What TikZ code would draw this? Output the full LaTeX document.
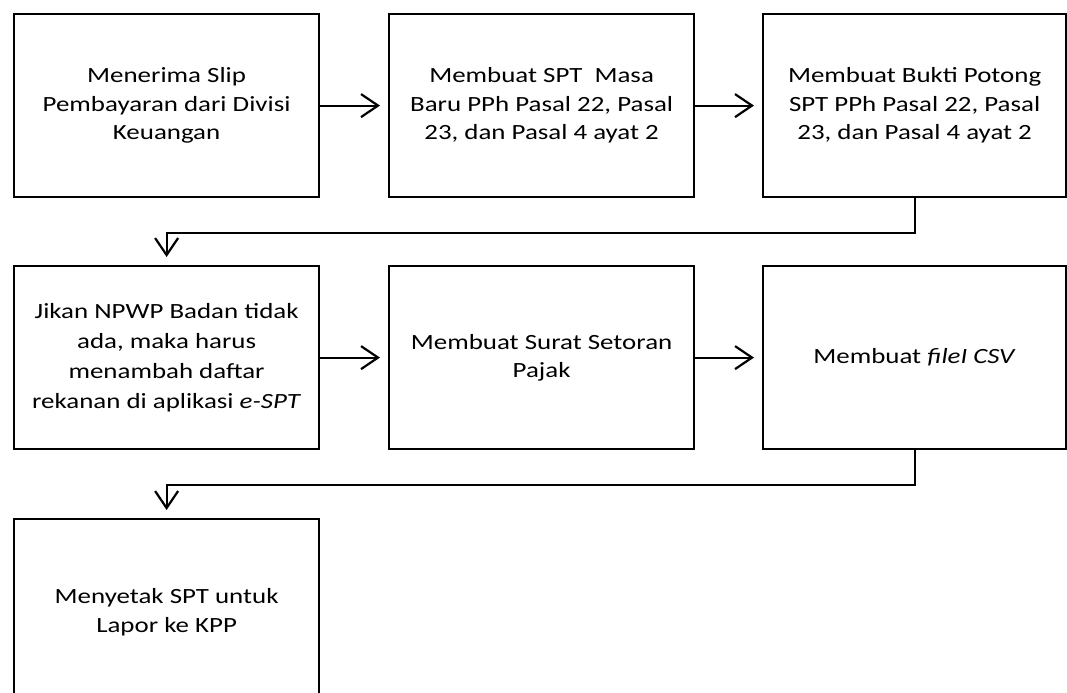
\documentclass[tikz,border=0pt]{standalone}
\usepackage{fontspec}
\setmainfont{Carlito}[FakeStretch=1.24]
\usetikzlibrary{arrows.meta,positioning}
\tikzset{
  stepbox/.style={draw=black, line width=2.2bp, anchor=north west, minimum width=305bp, minimum height=183bp, align=center, inner sep=0pt, font=\fontsize{21.7bp}{28.5bp}\selectfont},
  arr/.style={line width=2.2bp, -{Straight Barb[length=17bp,width=23bp,line width=2.2bp]}, shorten >=8bp}
}
\begin{document}
\begin{tikzpicture}[x=1bp,y=-1bp]
\useasboundingbox (0,0) rectangle (1067,693);
\clip (0,0) rectangle (1067,693);
\fill[white] (0,0) rectangle (1067,693);
\node[stepbox] (b1) at (13,13) {Menerima Slip\\Pembayaran dari Divisi\\Keuangan};
\node[stepbox] (b2) at (388,13) {Membuat SPT\ \ Masa\\Baru PPh Pasal 22, Pasal\\23, dan Pasal 4 ayat 2};
\node[stepbox, minimum width=303bp] (b3) at (762,13) {Membuat Bukti Potong\\SPT PPh Pasal 22, Pasal\\23, dan Pasal 4 ayat 2};
\node[stepbox, font=\fontsize{21.7bp}{30bp}\selectfont] (b4) at (13,265) {Jikan NPWP Badan tidak\\ada, maka harus\\menambah daftar\\rekanan di aplikasi \textit{e-SPT}};
\node[stepbox] (b5) at (388,265) {Membuat Surat Setoran\\Pajak};
\node[stepbox, minimum width=303bp] (b6) at (762,265) {Membuat \textit{fileI CSV}};
\node[stepbox, minimum height=186bp] (b7) at (13,518) {Menyetak SPT untuk\\Lapor ke KPP};
\draw[arr] (b1.east) -- (b2.west);
\draw[arr] (b2.east) -- (b3.west);
\draw[arr] (b4.east) -- (b5.west);
\draw[arr] (b5.east) -- (b6.west);
\draw[arr] (b3.south) -- ++(0,35) -| (b4.north);
\draw[arr] (b6.south) -- ++(0,35) -| (b7.north);
\end{tikzpicture}
\end{document}
